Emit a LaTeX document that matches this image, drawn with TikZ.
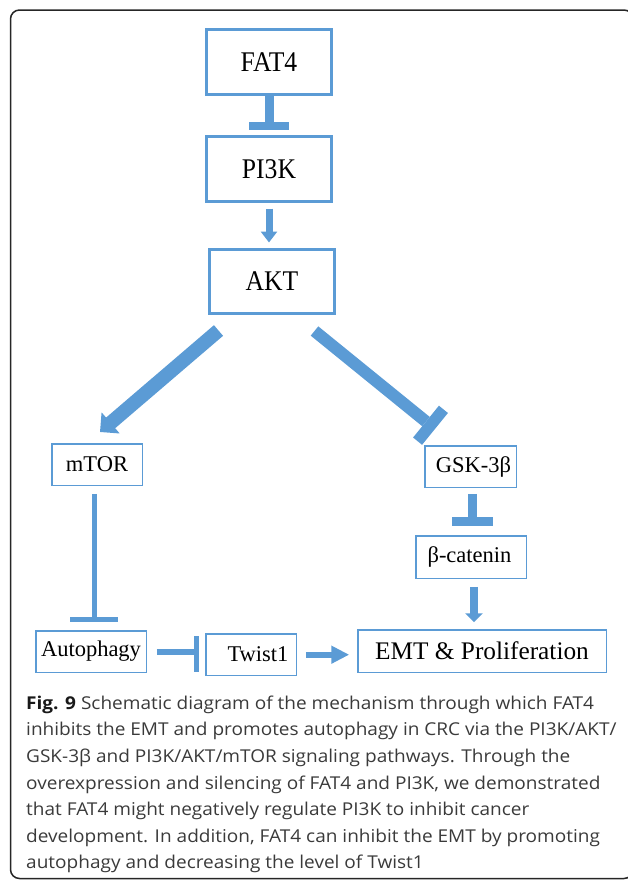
\documentclass[tikz,border=0pt]{standalone}
\usepackage{fontspec}
\setmainfont{Liberation Serif}
\newfontfamily\capfont[FakeStretch=1.075]{Open Sans}
\newfontfamily\bigfont[FakeStretch=0.9]{Liberation Serif}
\usetikzlibrary{arrows.meta,calc}
\definecolor{pathblue}{HTML}{5B9BD5}
\definecolor{captext}{HTML}{3A3A3A}
\begin{document}
\begin{tikzpicture}[x=1pt,y=-1pt,
  bigbox/.style={draw=pathblue, line width=3pt, inner sep=0pt, minimum width=125pt, minimum height=65pt,
    font=\bigfont\fontsize{28.5}{31}\selectfont},
  smallbox/.style={draw=pathblue, line width=1.5pt, inner sep=0pt, minimum height=41.5pt,
    font=\fontsize{22.5}{26}\selectfont},
  conn/.style={draw=pathblue, line cap=butt},
  captline/.style={anchor=base west, inner sep=0pt, text=captext, font=\capfont\fontsize{17.7}{26}\selectfont}
]
\useasboundingbox (0,0) rectangle (627,881);
% frame
\draw[line width=1.5pt, black!85, rounded corners=9pt] (10.5,10) rectangle (633,878.5);

% nodes
\node[bigbox] (fat4) at (269,62) {FAT4};
\node[bigbox] (pi3k) at (269,169) {PI3K};
\node[bigbox, minimum height=64pt] (akt) at (272,281.5) {AKT};
\node[smallbox, minimum width=90.5pt] (mtor) at (97,464.5) {mTOR};
\node[smallbox, minimum width=91.5pt] (gsk) at (470.5,466.5) {\hspace*{6pt}GSK-3β};
\node[smallbox, minimum width=110.5pt, minimum height=42.5pt] (bcat) at (471,557) {β-catenin\hspace*{3pt}};
\node[smallbox, minimum width=110.5pt] (auto) at (91,651.5) {Autophagy};
\node[smallbox, minimum width=90.5pt] (twist) at (251,654.5) {\hspace*{14pt}Twist1};
\node[smallbox, minimum width=248.5pt, minimum height=42.5pt, font=\fontsize{25.3}{28}\selectfont] (emt) at (482,651) {EMT \& Proliferation};

% FAT4 -| PI3K
\draw[conn, line width=9pt] (fat4.south) -- ($(pi3k.north)+(0,-13.5)$);
\draw[conn, line width=8pt] ($(pi3k.north)+(-20,-9.5)$) -- ($(pi3k.north)+(20,-9.5)$);

% PI3K -> AKT
\draw[conn, line width=7pt, -{Triangle[width=16pt,length=11pt]}, shorten <=5.5pt, shorten >=5.5pt]
  (pi3k.south) -- (pi3k.south |- akt.north);

% AKT -> mTOR
\coordinate (t1) at ($(akt.south west)+(10.5,15.5)$);
\coordinate (h1) at ($(mtor.north)+(3,-11)$);
\draw[conn, line width=14pt, -{Triangle[width=27pt,length=14pt]}] (t1) -- (h1);

% AKT -| GSK
\coordinate (t2) at ($(akt.south east)+(-21.5,16)$);
\coordinate (b2) at ($(gsk.north)+(-40,-19.75)$);
\draw[conn, line width=12pt] (t2) -- ($(b2)!5.8pt!(t2)$);
\draw[conn, line width=11.6pt] ($(b2)!20.5pt!90:(t2)$) -- ($(b2)!20.5pt!-90:(t2)$);

% mTOR -| Autophagy
\draw[conn, line width=5pt] ($(mtor.south)+(-3,7.75)$) -- ($(auto.north)+(3,-12.75)$);
\draw[conn, line width=5pt] ($(auto.north)+(-21,-10.25)$) -- ($(auto.north)+(27,-10.25)$);

% GSK -| beta-catenin
\draw[conn, line width=9pt] ($(gsk.south)+(2,5.75)$) -- ($(bcat.north)+(1.5,-17.75)$);
\draw[conn, line width=9pt] ($(bcat.north)+(-19,-13.25)$) -- ($(bcat.north)+(22,-13.25)$);

% beta-catenin -> EMT
\draw[conn, line width=8pt, -{Triangle[width=17pt,length=9pt]}]
  ($(bcat.south)+(3,7.75)$) -- ($(bcat.south |- emt.north)+(3,-6.75)$);

% Autophagy -| Twist1
\draw[conn, line width=6pt] ($(auto.east)+(9.75,0.5)$) -- ($(twist.west)+(-10.75,-2.5)$);
\draw[conn, line width=5pt] ($(twist.west)+(-8.25,-18.5)$) -- ($(twist.west)+(-8.25,17.5)$);

% Twist1 -> EMT
\draw[conn, line width=6pt, -{Triangle[width=17pt,length=18pt]}]
  ($(twist.east)+(8.75,0.2)$) -- ($(emt.west |- twist.east)+(-7.75,0.2)$);

% caption
\node[captline] (cap1) at (26,709.3) {\textbf{\color{black!90}Fig. 9} Schematic diagram of the mechanism through which FAT4};
\node[captline] (cap2) at (26,735.9) {inhibits the EMT and promotes autophagy in CRC via the PI3K/AKT/};
\node[captline] (cap3) at (26,762.5) {GSK-3β and PI3K/AKT/mTOR signaling pathways. Through the};
\node[captline] (cap4) at (26,789.1) {overexpression and silencing of FAT4 and PI3K, we demonstrated};
\node[captline] (cap5) at (26,815.7) {that FAT4 might negatively regulate PI3K to inhibit cancer};
\node[captline] (cap6) at (26,842.3) {development. In addition, FAT4 can inhibit the EMT by promoting};
\node[captline] (cap7) at (26,868.9) {autophagy and decreasing the level of Twist1};
\end{tikzpicture}
\end{document}
